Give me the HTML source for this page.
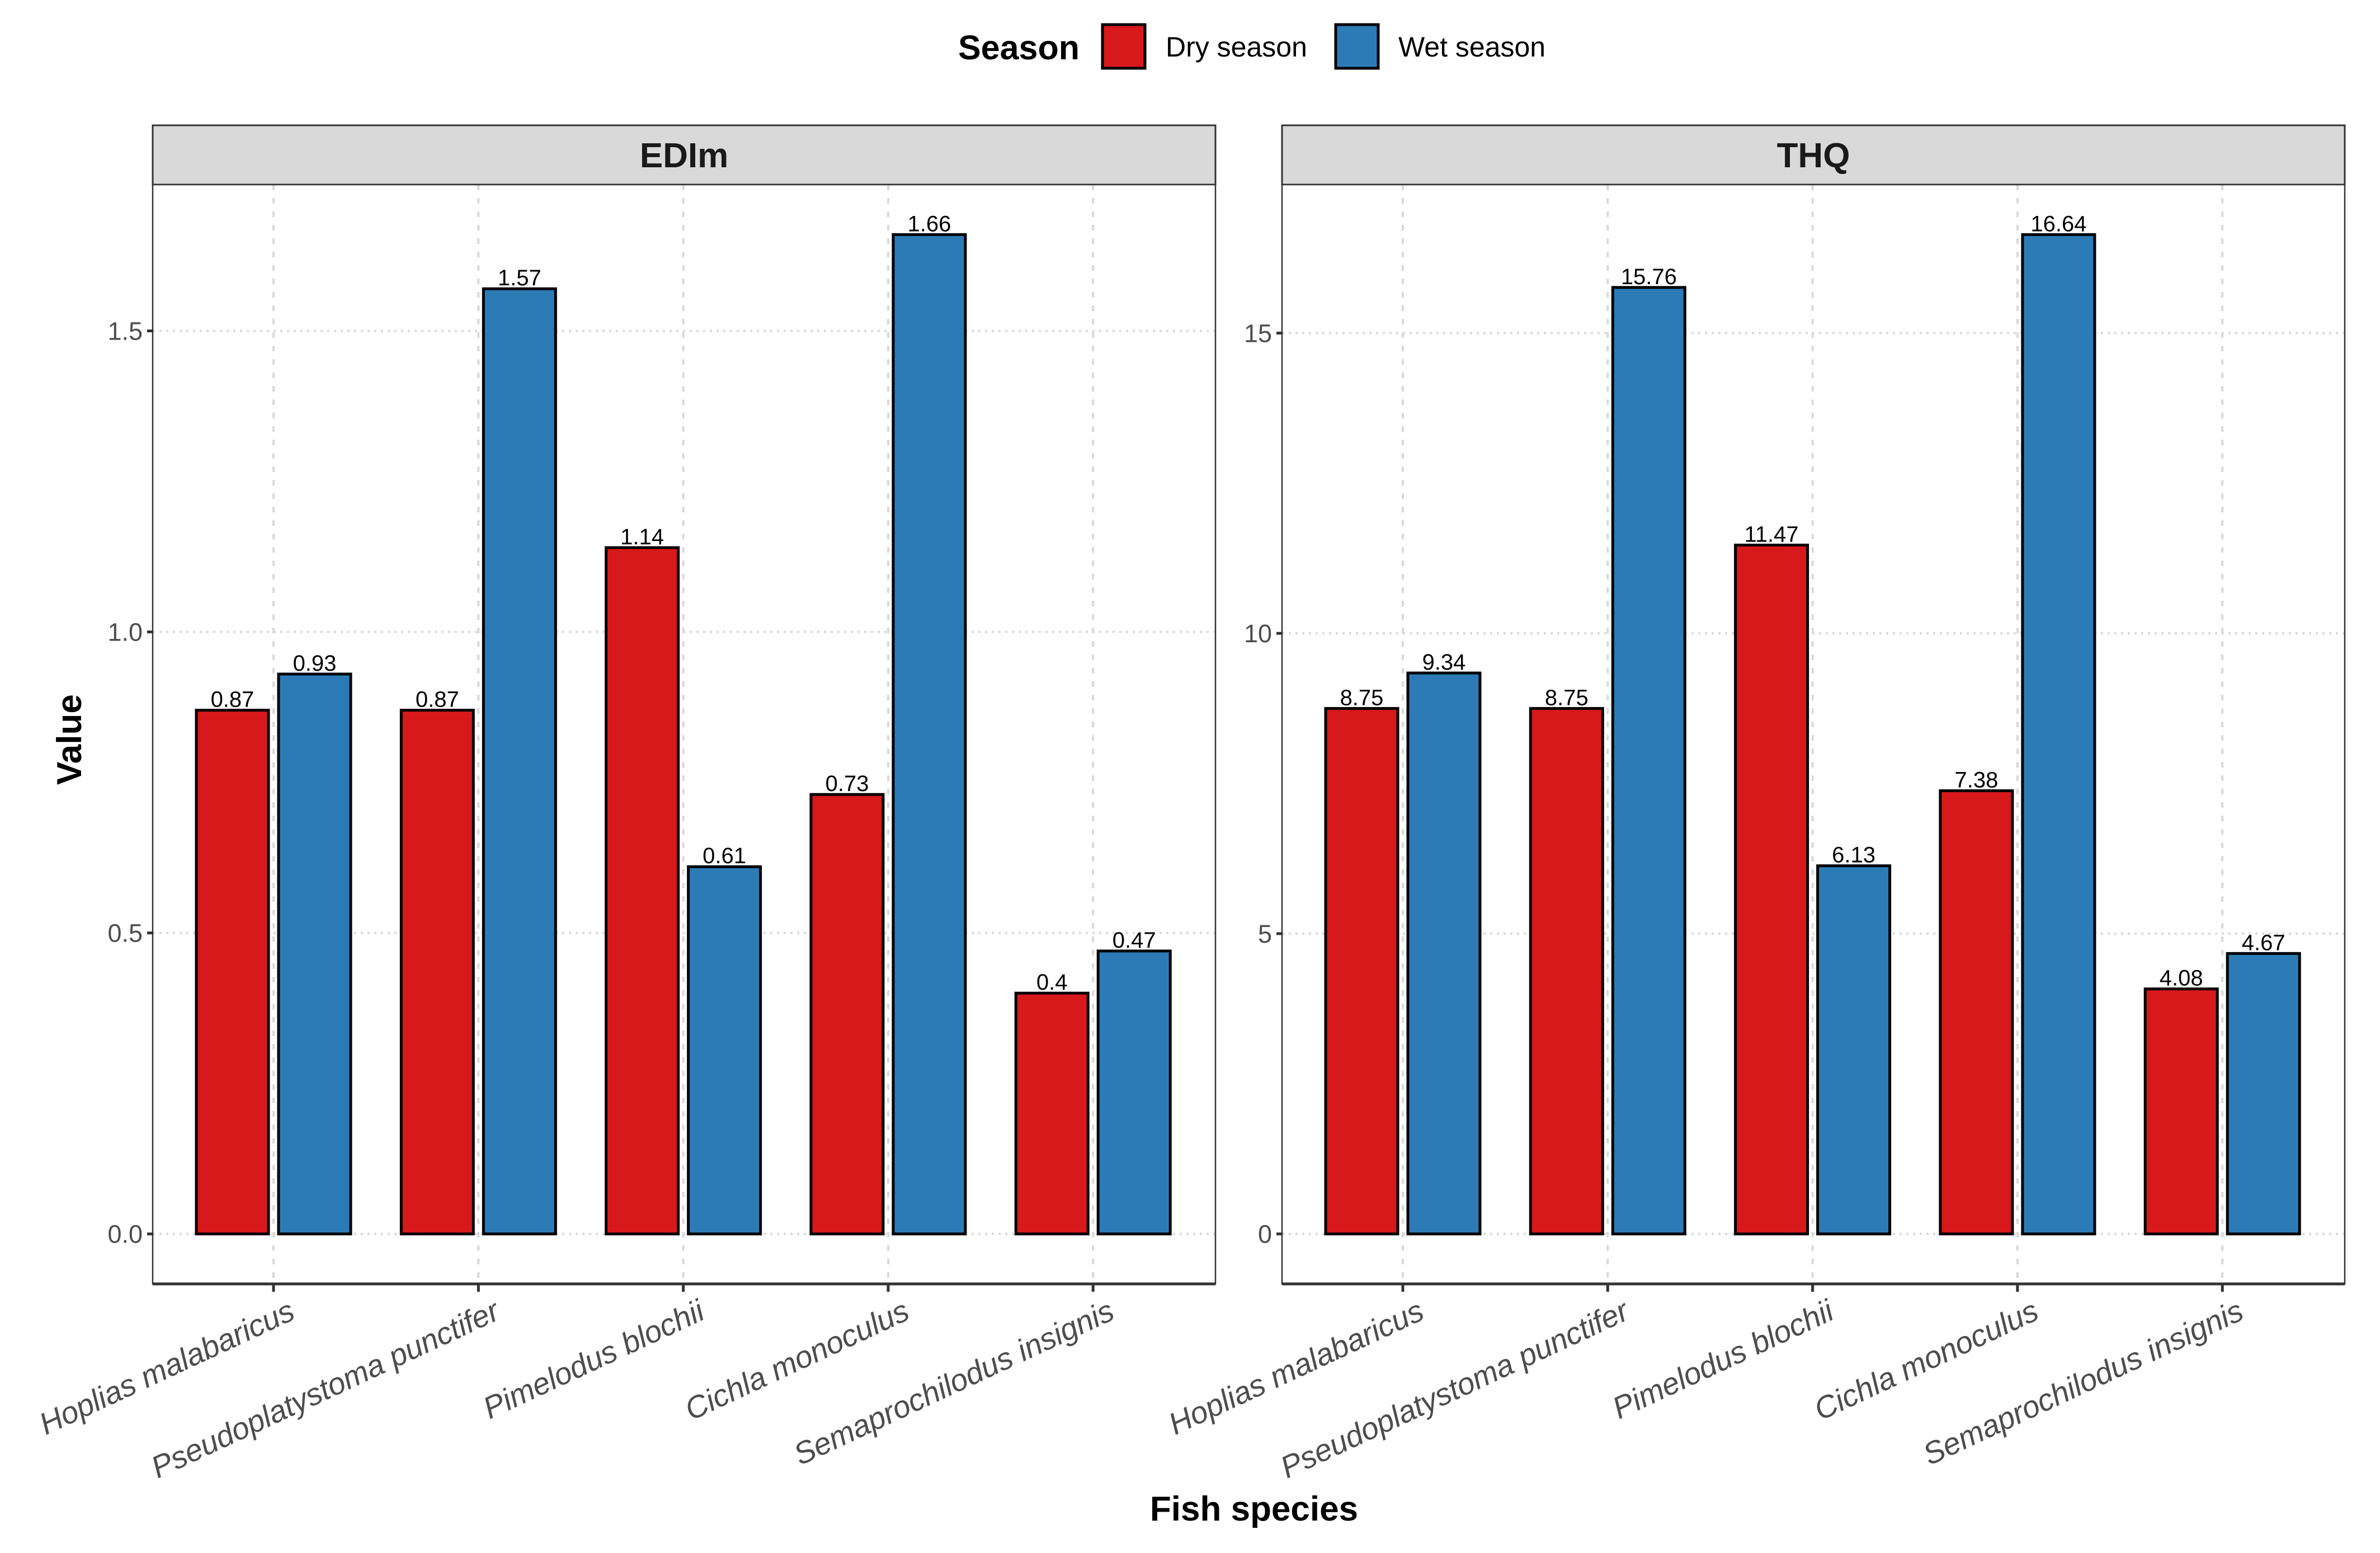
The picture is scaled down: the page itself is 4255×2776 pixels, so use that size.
<!DOCTYPE html>
<html><head><meta charset="utf-8"><style>
html,body{margin:0;padding:0;background:#fff;}
svg{display:block;font-family:"Liberation Sans",Arial,sans-serif;}
</style></head><body>
<svg id="chart" width="4255" height="2776" viewBox="0 0 4255 2776" xmlns="http://www.w3.org/2000/svg">
<g id="legend">
  <text x="1713" y="106" font-size="61" font-weight="bold" fill="#000">Season</text>
  <rect x="1971" y="44" width="76" height="78" fill="#d7191c" stroke="#000" stroke-width="5"/>
  <text x="2084" y="101" font-size="50" fill="#000">Dry season</text>
  <rect x="2388" y="44" width="76" height="78" fill="#2c7bb6" stroke="#000" stroke-width="5"/>
  <text x="2500" y="101" font-size="50" fill="#000">Wet season</text>
</g>
<g id="panels"></g>
<text x="2242" y="2718" font-size="62" font-weight="bold" text-anchor="middle" fill="#000">Fish species</text>
<text transform="translate(145,1322) rotate(-90)" font-size="62" font-weight="bold" text-anchor="middle" fill="#000">Value</text>
</svg>
<script>
const species = ["Hoplias malabaricus","Pseudoplatystoma punctifer","Pimelodus blochii","Cichla monoculus","Semaprochilodus insignis"];
const edimDry = [0.87,0.87,1.14,0.73,0.40];
const edimWet = [0.93,1.57,0.61,1.66,0.47];
const thqDry = [8.75,8.75,11.47,7.38,4.08];
const thqWet = [9.34,15.76,6.13,16.64,4.67];
const edimTicks = [0,0.5,1.0,1.5];
const edimTickLabels = ["0.0","0.5","1.0","1.5"];
const thqTicks = [0,5,10,15];
const thqTickLabels = ["0","5","10","15"];
const edimLabelsDry = ["0.87","0.87","1.14","0.73","0.4"];
const edimLabelsWet = ["0.93","1.57","0.61","1.66","0.47"];
const thqLabelsDry = ["8.75","8.75","11.47","7.38","4.08"];
const thqLabelsWet = ["9.34","15.76","6.13","16.64","4.67"];

const NS="http://www.w3.org/2000/svg";
const root=document.getElementById('panels');
function mk(tag,attrs,parent,text){const e=document.createElementNS(NS,tag);for(const k in attrs)e.setAttribute(k,attrs[k]);if(text!==undefined)e.textContent=text;parent.appendChild(e);return e;}

function panel(x0,title,dry,wet,ticks,tickLabels,labDry,labWet,key){
  const W=1900, top=330, bottom=2295, stripTop=224;
  const maxV=Math.max(...dry,...wet);
  const lo=-0.05*maxV, hi=maxV*1.05;
  const y=v=>bottom-(v-lo)/(hi-lo)*(bottom-top);
  const xc=i=>x0+216+i*366.3;
  const g=mk('g',{},root);
  
  
  const strip=mk('rect',{x:x0,y:stripTop,width:W,height:top-stripTop,fill:'#d9d9d9',stroke:'#333',"stroke-width":3},g);
  
  
  const st=mk('text',{x:x0+W/2,y:stripTop+75,"font-size":62,"font-weight":"bold","text-anchor":"middle",fill:'#1a1a1a'},g,title);
  
  
  mk('rect',{x:x0,y:top,width:W,height:bottom-top,fill:'#fff'},g);
  ticks.forEach((t,i)=>{
    const gl=mk('line',{x1:x0,x2:x0+W,y1:y(t),y2:y(t),stroke:'#d9d9d9',"stroke-width":4,"stroke-dasharray":"4 8"},g);
    
    
  });
  species.forEach((s,i)=>{
    const gl=mk('line',{x1:xc(i),x2:xc(i),y1:top,y2:bottom,stroke:'#d9d9d9',"stroke-width":4,"stroke-dasharray":"10 14"},g);
    
    
  });
  const bw=129, off=73.5;
  species.forEach((s,i)=>{
    [[dry,labDry,'#d7191c',-off,'dry'],[wet,labWet,'#2c7bb6',off,'wet']].forEach(([arr,lab,col,o,nm])=>{
      const v=arr[i];
      const r=mk('rect',{x:xc(i)+o-bw/2,y:y(v),width:bw,height:y(0)-y(v),fill:col,stroke:'#000',"stroke-width":5},g);
      
      
      const t=mk('text',{x:xc(i)+o,y:y(v)-6,"font-size":40,"text-anchor":"middle",fill:'#000'},g,lab[i]);
      
      
    });
  });
  mk('rect',{x:x0,y:top,width:W,height:bottom-top,fill:'none',stroke:'#333',"stroke-width":2.5},g);
  mk('line',{x1:x0,x2:x0+W,y1:bottom,y2:bottom,stroke:'#333',"stroke-width":5},g);
  ticks.forEach((t,i)=>{
    mk('line',{x1:x0-10,x2:x0,y1:y(t),y2:y(t),stroke:'#333',"stroke-width":5},g);
    const tl=mk('text',{x:x0-18,y:y(t)+16,"font-size":45,"text-anchor":"end",fill:'#4d4d4d'},g,tickLabels[i]);
    
    
  });
  species.forEach((s,i)=>{
    mk('line',{x1:xc(i),x2:xc(i),y1:bottom,y2:bottom+14,stroke:'#333',"stroke-width":5},g);
    const tl=mk('text',{transform:`translate(${xc(i)+24},${bottom+24}) rotate(-25)`,"font-size":55,"font-style":"italic","text-anchor":"end",dy:"0.75em",fill:'#4d4d4d'},g,s);
    
    
  });
}
panel(273,"EDIm",edimDry,edimWet,edimTicks,edimTickLabels,edimLabelsDry,edimLabelsWet,'edim');
panel(2292,"THQ",thqDry,thqWet,thqTicks,thqTickLabels,thqLabelsDry,thqLabelsWet,'thq');
</script>
</body></html>
